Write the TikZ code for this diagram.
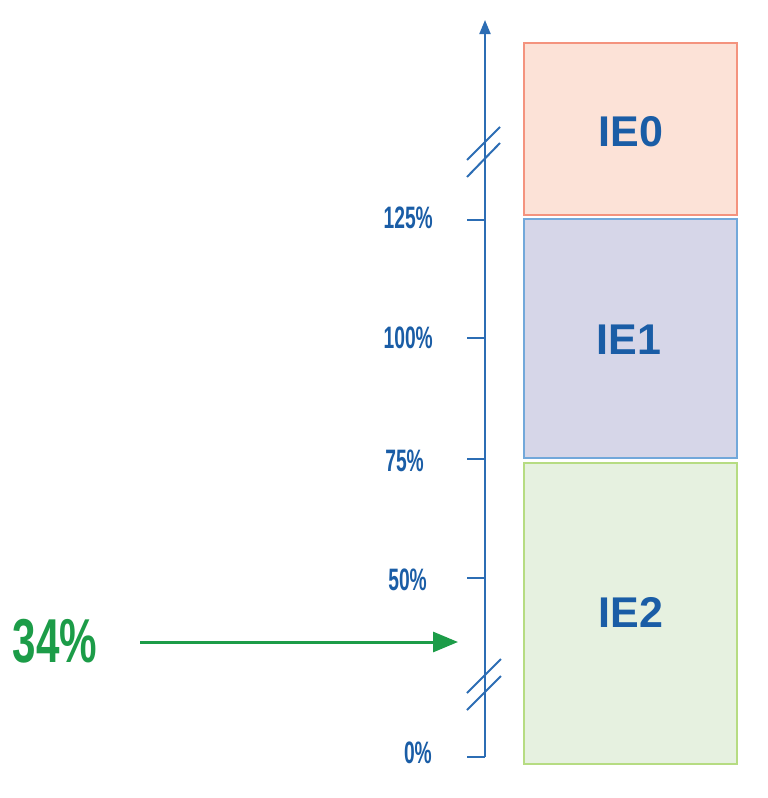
\documentclass[tikz,border=0pt]{standalone}
\usepackage{fontspec}
\setmainfont{Liberation Sans}
\newfontfamily\condfont[FakeStretch=0.62]{Liberation Sans Bold}
\newfontfamily\pctfont[FakeStretch=0.68]{Liberation Sans Bold}
\usetikzlibrary{arrows.meta}
\definecolor{axblue}{HTML}{2C6DB4}
\definecolor{txtblue}{HTML}{1A5DA6}
\definecolor{pgreen}{HTML}{1C9C48}
\definecolor{ieofill}{HTML}{FCE2D7}
\definecolor{ieodraw}{HTML}{F4937E}
\definecolor{ieifill}{HTML}{D6D6E8}
\definecolor{ieidraw}{HTML}{72A8DA}
\definecolor{ieiifill}{HTML}{E6F1E0}
\definecolor{ieiidraw}{HTML}{B6DC82}
\tikzset{
  ax/.style={draw=axblue, line width=2pt},
  ticklbl/.style={inner sep=0pt, text=txtblue, font=\condfont\fontsize{31}{31}\selectfont},
  iebox/.style={line width=1.5pt, inner sep=0pt, minimum width=213pt},
  ietext/.style={inner sep=0pt, text=txtblue, font=\bfseries\fontsize{43}{43}\selectfont},
}
\begin{document}
\begin{tikzpicture}[x=1pt, y=-1pt]
\useasboundingbox (0,0) rectangle (768,798);
% boxes
\node[iebox, draw=ieodraw, fill=ieofill, minimum height=172pt] (ie0) at (630.5,129) {};
\node[iebox, draw=ieidraw, fill=ieifill, minimum height=239pt] (ie1) at (630.5,338.5) {};
\node[iebox, draw=ieiidraw, fill=ieiifill, minimum height=301pt] (ie2) at (630.5,613.5) {};
\node[ietext] (ie0t) at (631,132) {IE0};
\node[ietext] (ie1t) at (629,340) {IE1};
\node[ietext] (ie2t) at (631,612) {IE2};
% axis
\coordinate (axbot) at (485,757);
\coordinate (axtop) at (485,20);
\draw[ax, -{Triangle[length=14pt,width=11pt]}] (axbot) -- (axtop);
% ticks
\foreach \n/\y in {t125/220, t100/338, t75/459, t50/578, t0/757}{
  \coordinate (\n) at (485,\y);
  \coordinate (\n l) at (467,\y);
  \draw[ax] (\n l) -- (\n);
}
% tick labels
\node[ticklbl, anchor=east] (l125) at (433,218) {125\%};
\node[ticklbl, anchor=east] (l100) at (433,338) {100\%};
\node[ticklbl, anchor=east] (l75) at (424,461) {75\%};
\node[ticklbl, anchor=east] (l50) at (427,580) {50\%};
\node[ticklbl, anchor=east] (l0) at (432,753) {0\%};
% break marks
\coordinate (ba1) at (467,160); \coordinate (ba2) at (500,127);
\coordinate (bb1) at (467,177); \coordinate (bb2) at (500,143);
\coordinate (bc1) at (467,693); \coordinate (bc2) at (501,659);
\coordinate (bd1) at (467,710); \coordinate (bd2) at (501,676);
\draw[ax] (ba1) -- (ba2);
\draw[ax] (bb1) -- (bb2);
\draw[ax] (bc1) -- (bc2);
\draw[ax] (bd1) -- (bd2);
% 34% arrow
\node[inner sep=0pt, text=pgreen, font=\pctfont\fontsize{62}{62}\selectfont] (pct) at (55,641) {34\%};
\coordinate (gs) at (140,642);
\coordinate (ge) at (458,642);
\draw[draw=pgreen, line width=3pt, -{Triangle[length=25pt,width=20pt]}] (gs) -- (ge);
\end{tikzpicture}
\end{document}
